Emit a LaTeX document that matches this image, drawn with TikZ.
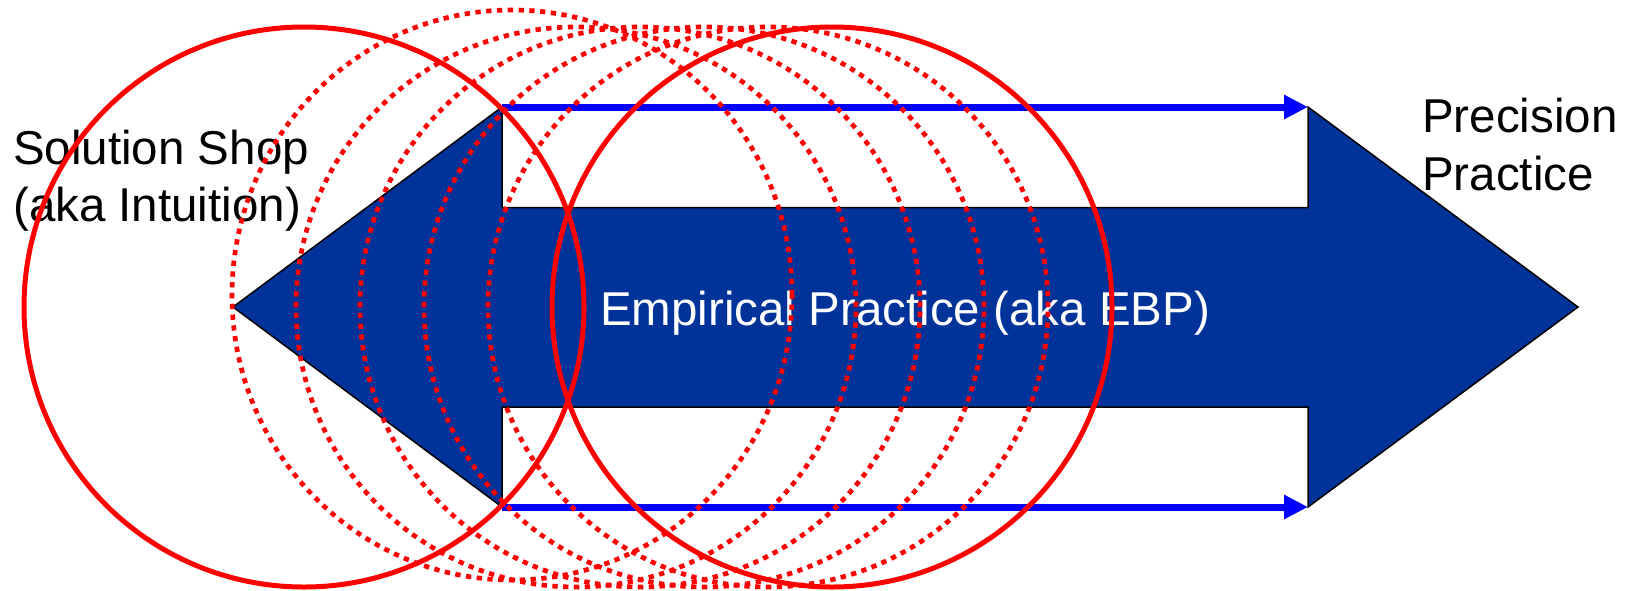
\documentclass[tikz,border=0pt]{standalone}
\usepackage{fontspec}
\setmainfont{Liberation Sans}
\usetikzlibrary{arrows.meta}
\definecolor{navy}{RGB}{0,51,153}
\definecolor{pured}{RGB}{255,0,0}
\definecolor{pureblue}{RGB}{0,0,255}
\begin{document}
\begin{tikzpicture}[x=1pt,y=-1pt,
  lbl/.style={inner sep=0pt,anchor=base west,font=\fontsize{47.5}{57}\selectfont},
  bigarrow/.style={fill=navy,draw=black,line width=1.5pt},
  trend/.style={draw=pureblue,line width=7pt,-{Triangle[length=24pt,width=23pt]}},
  solidring/.style={draw=pured,line width=5pt},
  dotring/.style={draw=pured,line width=4.7pt,dash pattern=on 5.3pt off 5.5pt}]
\useasboundingbox (0,0) rectangle (1628,590);
% corners of the double arrow
\coordinate (ltip) at (233,307);
\coordinate (lht) at (502,107);
\coordinate (lhb) at (502,507);
\coordinate (rht) at (1308,107);
\coordinate (rhb) at (1308,507);
\coordinate (rtip) at (1578,307);
\coordinate (lst) at (502,207.5);
\coordinate (rst) at (1308,207.5);
\coordinate (rsb) at (1308,407);
\coordinate (lsb) at (502,407);
\path[bigarrow] (ltip) -- (lht) -- (lst) -- (rst) -- (rht) -- (rtip) -- (rhb) -- (rsb) -- (lsb) -- (lhb) -- cycle;
% blue trend arrows
\draw[trend] (lht) -- (rht);
\draw[trend] (lhb) -- (rhb);
% texts
\node[lbl] (sol1) at (13,164) {Solution Shop};
\node[lbl] (sol2) at (13,221) {(aka Intuition)};
\node[lbl] (pre1) at (1422,132) {Precision};
\node[lbl] (pre2) at (1422,190) {Practice};
\node[lbl,text=white] (emp) at (600,325) {Empirical Practice (aka EBP)};
% circles
\draw[solidring] (304,307) circle[radius=280pt];
\draw[solidring] (832,307) circle[radius=280pt];
\draw[dotring] (512,295) ellipse[x radius=280pt,y radius=285pt];
\draw[dotring] (576,307) circle[radius=280pt];
\draw[dotring] (640,307) circle[radius=280pt];
\draw[dotring] (704,307) circle[radius=280pt];
\draw[dotring] (768,307) circle[radius=280pt];
\end{tikzpicture}
\end{document}
